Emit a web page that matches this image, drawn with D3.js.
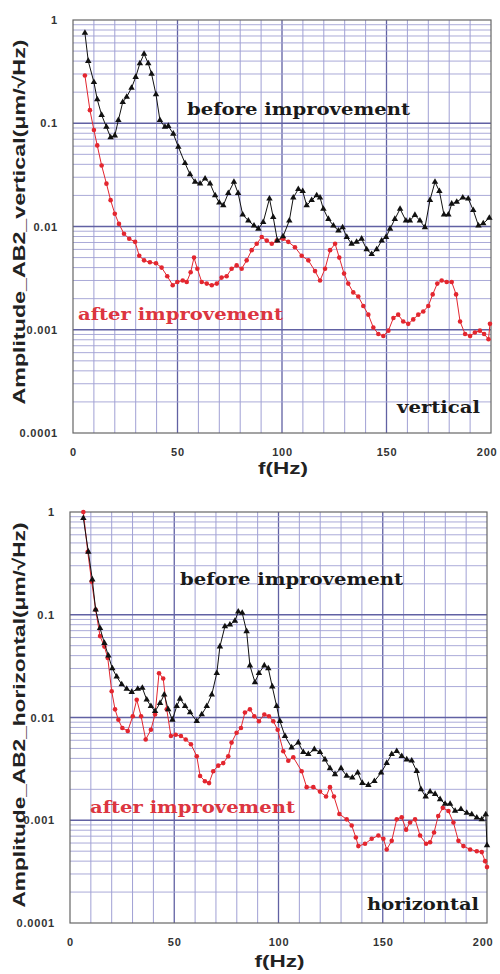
<!DOCTYPE html>
<html>
<head>
<meta charset="utf-8">
<script src="https://cdn.jsdelivr.net/npm/d3@7"></script>
<style>
  body { margin: 0; background: #fff; }
  svg { display: block; }
</style>
</head>
<body>
<svg></svg>
<script>
// values (f in Hz, amplitude in um/sqrt(Hz))
const xTicks = [0, 50, 100, 150, 200];
const xTickLabels = ["0", "50", "100", "150", "200"];
const yTicks = [1, 0.1, 0.01, 0.001, 0.0001];
const yTickLabels = ["1", "0.1", "0.01", "0.001", "0.0001"];

const vertBeforeF = [5.7, 7.3, 10, 11.6, 13.7, 16, 18, 20, 21.7, 23.8, 25.7, 28, 30, 32, 34, 36, 37.6, 39.7, 41.6, 44, 45.6, 48, 50.4, 53.6, 56, 58.4, 60.8, 63.2, 65.6, 68, 70, 71.9, 74.3, 77, 79, 81.2, 83.9, 86.6, 88.7, 91, 94, 95.8, 97.8, 100.5, 103.5, 105.4, 107.8, 109.9, 111.8, 114.2, 116.6, 118.2, 119.8, 122.2, 124.6, 127, 129, 131, 133.3, 135.7, 138.1, 140.5, 142.9, 145.3, 147.7, 149.8, 151.7, 154, 156.5, 159.3, 161.2, 163.6, 166, 168.4, 170.8, 173.2, 175.3, 177.5, 179.6, 181.2, 183.6, 186.5, 189.1, 191.5, 194, 196.3, 199.2];
const vertBeforeA = [0.75, 0.40, 0.25, 0.17, 0.12, 0.092, 0.073, 0.076, 0.107, 0.16, 0.18, 0.22, 0.28, 0.38, 0.47, 0.38, 0.30, 0.19, 0.107, 0.092, 0.094, 0.079, 0.059, 0.041, 0.032, 0.027, 0.026, 0.029, 0.026, 0.020, 0.017, 0.016, 0.021, 0.027, 0.021, 0.013, 0.0114, 0.0102, 0.0095, 0.011, 0.0186, 0.0123, 0.0073, 0.0080, 0.0114, 0.019, 0.023, 0.022, 0.016, 0.018, 0.020, 0.019, 0.0148, 0.0118, 0.0102, 0.0091, 0.0098, 0.0079, 0.0068, 0.0071, 0.0076, 0.0060, 0.0054, 0.0060, 0.0073, 0.0079, 0.0095, 0.0118, 0.0148, 0.0114, 0.0114, 0.0129, 0.0114, 0.0098, 0.018, 0.027, 0.022, 0.013, 0.013, 0.0166, 0.0173, 0.019, 0.0186, 0.0144, 0.0102, 0.0107, 0.0121];

const vertAfterF = [5.7, 8.1, 10, 11.6, 13.7, 16, 18, 20, 22, 24.4, 26.9, 29.7, 31.7, 34, 36.8, 39.7, 42.4, 45.1, 47.7, 49.9, 52.5, 54.4, 56.3, 57.9, 59.5, 61.6, 64, 66.4, 68.8, 71.1, 73.5, 75.9, 78.3, 80.7, 83.1, 85.5, 87.9, 90.3, 92.7, 95.1, 97.5, 100.6, 103, 106.2, 109.4, 112.6, 115.8, 118.2, 120.6, 123, 125.4, 127.4, 129.7, 131.7, 134.1, 136.5, 138.9, 141.3, 143.7, 146.1, 148.5, 150.9, 153.3, 155.6, 158, 160.4, 162.8, 165.2, 167.6, 170, 172.1, 174.3, 176.4, 178.8, 181.2, 183.3, 185.2, 187.6, 190, 192.3, 194.7, 196.7, 198.8, 199.5];
const vertAfterA = [0.29, 0.134, 0.086, 0.061, 0.039, 0.026, 0.018, 0.0133, 0.0106, 0.0085, 0.0076, 0.0071, 0.0052, 0.0047, 0.0045, 0.0044, 0.0040, 0.0033, 0.0027, 0.0029, 0.0030, 0.0029, 0.0036, 0.0050, 0.0039, 0.0029, 0.0028, 0.0027, 0.0028, 0.0032, 0.0033, 0.0039, 0.0042, 0.0039, 0.0047, 0.0059, 0.0068, 0.0079, 0.0073, 0.0068, 0.0073, 0.0076, 0.0071, 0.0063, 0.0052, 0.0047, 0.0037, 0.0030, 0.0039, 0.0059, 0.0068, 0.0050, 0.0035, 0.0028, 0.0023, 0.0021, 0.0017, 0.0014, 0.00105, 0.00091, 0.00087, 0.00098, 0.0013, 0.0014, 0.0012, 0.00114, 0.00126, 0.0014, 0.0015, 0.0017, 0.0022, 0.0028, 0.0030, 0.0029, 0.0029, 0.0022, 0.0012, 0.00091, 0.00087, 0.00094, 0.00098, 0.00091, 0.00081, 0.00114];

const horBeforeF = [6.4, 8.8, 10.7, 12.3, 14.4, 16.5, 18.4, 20.3, 22.4, 24.8, 27.2, 29.6, 32.5, 34.7, 36.8, 38.8, 40.8, 43.2, 45.2, 47.1, 49.1, 51.2, 52.8, 55.2, 57.6, 60.8, 63.2, 65.6, 68, 70.4, 71.9, 74.3, 76.7, 79.1, 80.7, 82.6, 84.7, 86.3, 88.7, 90.6, 93.2, 95.1, 97, 99.1, 100.7, 103.1, 106.3, 109.5, 111.9, 114.3, 117.2, 119.9, 122.3, 124.7, 127.1, 130, 132.7, 135.4, 138, 140.2, 143.1, 146, 149.2, 151.9, 154.3, 156.7, 159.1, 161.5, 163.9, 166.3, 168.3, 170.6, 172.7, 175.1, 177.5, 179.9, 182.3, 184.7, 187.5, 190.3, 192.7, 195.1, 197.5, 199.4, 200];
const horBeforeA = [0.87, 0.41, 0.22, 0.112, 0.074, 0.053, 0.040, 0.030, 0.025, 0.021, 0.019, 0.0177, 0.019, 0.0194, 0.0149, 0.0129, 0.0115, 0.0138, 0.0167, 0.012, 0.0095, 0.0129, 0.0152, 0.0129, 0.0112, 0.0092, 0.0107, 0.0129, 0.0167, 0.027, 0.049, 0.077, 0.080, 0.087, 0.107, 0.104, 0.069, 0.032, 0.022, 0.027, 0.032, 0.030, 0.020, 0.0129, 0.0092, 0.0066, 0.0051, 0.0057, 0.0046, 0.0044, 0.0049, 0.0046, 0.0039, 0.0032, 0.0028, 0.0032, 0.0027, 0.0026, 0.0029, 0.0023, 0.0022, 0.0024, 0.0029, 0.0036, 0.0044, 0.0047, 0.0042, 0.0039, 0.0038, 0.0030, 0.0020, 0.0017, 0.0019, 0.0018, 0.0016, 0.00144, 0.00144, 0.00123, 0.00128, 0.00118, 0.00114, 0.00106, 0.00102, 0.00114, 0.00057];

const horAfterF = [6.4, 8.5, 10.4, 12.3, 14.4, 16.5, 18.1, 20, 21.6, 23.2, 25.1, 27.7, 30.1, 32, 34.1, 36.3, 38.8, 40.8, 42.7, 44.7, 46.4, 48.4, 50.7, 53.2, 55.5, 58, 60.8, 62.4, 64.7, 66.7, 68.7, 71.1, 73.5, 75.9, 77.5, 79.9, 82, 83.9, 86.3, 88.4, 90.6, 93.2, 95.4, 97.5, 99.6, 102.3, 104.7, 107.1, 111.1, 113.5, 116.7, 119.9, 122.8, 124.7, 126.6, 129.2, 132.7, 135.1, 137.1, 138.3, 141.5, 144.7, 147.9, 150.3, 151.9, 154.3, 156.7, 159.1, 161.2, 163.1, 165.5, 167.9, 170.8, 172.7, 174.6, 176.6, 178.8, 181.5, 183.9, 186.3, 188.7, 191.9, 195.1, 197.5, 199.1, 200];
const horAfterA = [1.0, 0.41, 0.21, 0.112, 0.062, 0.049, 0.038, 0.018, 0.012, 0.0095, 0.0079, 0.0074, 0.0103, 0.0149, 0.0103, 0.0061, 0.0076, 0.0107, 0.027, 0.024, 0.012, 0.0066, 0.0068, 0.0066, 0.0061, 0.0055, 0.0042, 0.0027, 0.0024, 0.0023, 0.0030, 0.0034, 0.0036, 0.0042, 0.0057, 0.0071, 0.0079, 0.0112, 0.012, 0.0103, 0.0092, 0.0107, 0.0103, 0.0092, 0.0076, 0.0047, 0.0038, 0.0041, 0.0030, 0.0021, 0.0021, 0.0019, 0.0017, 0.0021, 0.0017, 0.00115, 0.00102, 0.00089, 0.00068, 0.00056, 0.00059, 0.00066, 0.00071, 0.00066, 0.00052, 0.00063, 0.00102, 0.00107, 0.00081, 0.00095, 0.00102, 0.00071, 0.00059, 0.00061, 0.00076, 0.0011, 0.00132, 0.00123, 0.00095, 0.00063, 0.00056, 0.00052, 0.00050, 0.00049, 0.00040, 0.00035];

const width = 500;
const height = 974;

const black = "#111111";
const red = "#e3262f";
const gridLight = "#a0a0d4";
const gridDark = "#6161a3";

const svg = d3.select("svg")
  .attr("width", width)
  .attr("height", height)
  .style("font-family", "'Liberation Sans', Arial, sans-serif");

const panels = [
  {
    left: 73, right: 491, top: 20, bottom: 433,
    title: "Amplitude_AB2_vertical(\u03bcm/\u221aHz)", titleY: 222, titleLen: 365,
    before: { f: vertBeforeF, a: vertBeforeA },
    after: { f: vertAfterF, a: vertAfterA },
    beforeLabel: { x: 187, y: 115, len: 223 },
    afterLabel: { x: 78, y: 320, len: 205 },
    tag: { text: "vertical", x: 397, y: 413, len: 83 },
    fY: 474
  },
  {
    left: 70, right: 487, top: 512, bottom: 923,
    title: "Amplitude_AB2_horizontal(\u03bcm/\u221aHz)", titleY: 715, titleLen: 385,
    before: { f: horBeforeF, a: horBeforeA },
    after: { f: horAfterF, a: horAfterA },
    beforeLabel: { x: 180, y: 585, len: 223 },
    afterLabel: { x: 90, y: 813, len: 205 },
    tag: { text: "horizontal", x: 367, y: 910, len: 112 },
    fY: 967
  }
];

panels.forEach(p => {
  const x = d3.scaleLinear().domain([0, 200]).range([p.left, p.right]);
  const y = d3.scaleLog().domain([0.0001, 1]).range([p.bottom, p.top]);

  const g = svg.append("g");

  // grid: every 10 Hz, and 1..9 in each decade
  const vLines = d3.range(10, 200, 10);
  g.append("g")
    .selectAll("line")
    .data(vLines)
    .join("line")
    .attr("x1", d => x(d)).attr("x2", d => x(d))
    .attr("y1", p.top).attr("y2", p.bottom)
    .attr("stroke", d => d % 50 === 0 ? gridDark : gridLight)
    .attr("stroke-width", d => d % 50 === 0 ? 1.3 : 1);

  const hLines = [];
  [0.0001, 0.001, 0.01, 0.1].forEach(dec => {
    for (let m = 1; m < 10; m++) {
      if (dec * m > 0.0001) hLines.push({ v: dec * m, major: m === 1 });
    }
  });
  g.append("g")
    .selectAll("line")
    .data(hLines)
    .join("line")
    .attr("x1", p.left).attr("x2", p.right)
    .attr("y1", d => y(d.v)).attr("y2", d => y(d.v))
    .attr("stroke", d => d.major ? gridDark : gridLight)
    .attr("stroke-width", d => d.major ? 1.5 : 0.9);

  // frame
  g.append("rect")
    .attr("x", p.left).attr("y", p.top)
    .attr("width", p.right - p.left).attr("height", p.bottom - p.top)
    .attr("fill", "none")
    .attr("stroke", "#666")
    .attr("stroke-width", 1.2);

  // axes
  const yAxis = g.append("g")
    .attr("transform", `translate(${p.left - 12},0)`)
    .call(d3.axisLeft(y).tickValues(yTicks).tickFormat((d, i) => yTickLabels[i]).tickSize(0));
  yAxis.select(".domain").remove();
  yAxis.selectAll("text")
    .style("font-size", "11px")
    .style("font-weight", "bold")
    .style("letter-spacing", "0.8px")
    .attr("fill", "#333");

  const xAxis = g.append("g")
    .attr("transform", `translate(0,${p.bottom + 12})`)
    .call(d3.axisBottom(x).tickValues(xTicks).tickFormat((d, i) => xTickLabels[i]).tickSize(0));
  xAxis.select(".domain").remove();
  xAxis.selectAll("text")
    .style("font-size", "11px")
    .style("font-weight", "bold")
    .style("letter-spacing", "0.8px")
    .attr("fill", "#333");
  // keep the last label inside the window
  xAxis.selectAll(".tick:last-of-type text").attr("text-anchor", "end").attr("dx", "6px");

  g.append("text")
    .attr("x", (p.left + p.right) / 2 + 1)
    .attr("y", p.fY)
    .attr("text-anchor", "middle")
    .attr("textLength", 50)
    .attr("lengthAdjust", "spacingAndGlyphs")
    .style("font-size", "17px")
    .style("font-weight", "bold")
    .attr("fill", "#222")
    .text("f(Hz)");

  g.append("text")
    .attr("transform", `translate(25,${p.titleY}) rotate(-90)`)
    .attr("text-anchor", "middle")
    .attr("textLength", p.titleLen)
    .attr("lengthAdjust", "spacingAndGlyphs")
    .style("font-size", "17px")
    .style("font-weight", "bold")
    .attr("fill", "#222")
    .text(p.title);

  // series
  const line = d3.line()
    .x(d => x(d[0]))
    .y(d => y(d[1]));

  const after = p.after.f.map((f, i) => [f, p.after.a[i]]);
  const before = p.before.f.map((f, i) => [f, p.before.a[i]]);

  g.append("path")
    .datum(after)
    .attr("fill", "none")
    .attr("stroke", red)
    .attr("stroke-width", 1)
    .attr("d", line);
  g.append("g")
    .selectAll("circle")
    .data(after)
    .join("circle")
    .attr("cx", d => x(d[0]))
    .attr("cy", d => y(d[1]))
    .attr("r", 2.3)
    .attr("fill", red);

  g.append("path")
    .datum(before)
    .attr("fill", "none")
    .attr("stroke", black)
    .attr("stroke-width", 1)
    .attr("d", line);
  g.append("g")
    .selectAll("path")
    .data(before)
    .join("path")
    .attr("transform", d => `translate(${x(d[0])},${y(d[1])})`)
    .attr("d", d3.symbol(d3.symbolTriangle, 18))
    .attr("fill", black);

  // labels inside the plot
  const serif = "'DejaVu Serif', 'Liberation Serif', serif";
  g.append("text")
    .attr("x", p.beforeLabel.x).attr("y", p.beforeLabel.y)
    .attr("textLength", p.beforeLabel.len)
    .attr("lengthAdjust", "spacingAndGlyphs")
    .style("font-family", serif)
    .style("font-size", "16px")
    .style("font-weight", "bold")
    .attr("fill", "#1a1a1a")
    .text("before improvement");

  g.append("text")
    .attr("x", p.afterLabel.x).attr("y", p.afterLabel.y)
    .attr("textLength", p.afterLabel.len)
    .attr("lengthAdjust", "spacingAndGlyphs")
    .style("font-family", serif)
    .style("font-size", "16px")
    .style("font-weight", "bold")
    .attr("fill", "#dc3540")
    .text("after improvement");

  g.append("text")
    .attr("x", p.tag.x).attr("y", p.tag.y)
    .attr("textLength", p.tag.len)
    .attr("lengthAdjust", "spacingAndGlyphs")
    .style("font-family", serif)
    .style("font-size", "16px")
    .style("font-weight", "bold")
    .attr("fill", "#1a1a1a")
    .text(p.tag.text);
});
</script>
</body>
</html>
